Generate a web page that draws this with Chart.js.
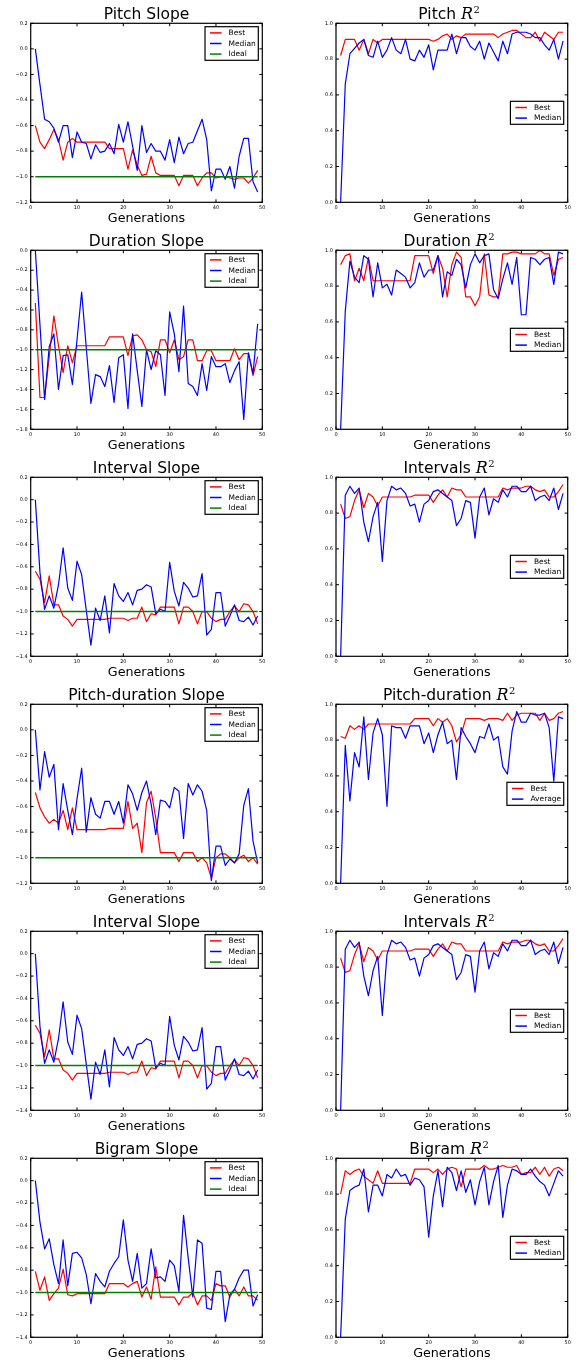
<!DOCTYPE html>
<html>
<head>
<meta charset="utf-8">
<script src="https://cdn.jsdelivr.net/npm/chart.js@4.4.1/dist/chart.umd.min.js"></script>
<style>
  html, body { margin: 0; padding: 0; background: #fff; width: 579px; height: 1360px; overflow: hidden; }
  canvas { position: absolute; }
</style>
</head>
<body>
<script>
// generations on the x axis
const generations = [1,2,3,4,5,6,7,8,9,10,11,12,13,14,15,16,17,18,19,20,21,22,23,24,25,
  26,27,28,29,30,31,32,33,34,35,36,37,38,39,40,41,42,43,44,45,46,47,48,49];
const xTicks = [0, 10, 20, 30, 40, 50];
const idealSlope = -1;

// tick labels of the y axes
const ticksSlope12 = [-1.2, -1.0, -0.8, -0.6, -0.4, -0.2, 0.0, 0.2];
const ticksSlope14 = [-1.4, -1.2, -1.0, -0.8, -0.6, -0.4, -0.2, 0.0, 0.2];
const ticksSlope18 = [-1.8, -1.6, -1.4, -1.2, -1.0, -0.8, -0.6, -0.4, -0.2, 0.0];
const ticksR2 = [0.0, 0.2, 0.4, 0.6, 0.8, 1.0];

const legendSlope = ["Best", "Median", "Ideal"];
const legendR2 = ["Best", "Median"];
const legendR2Avg = ["Best", "Average"];

// Pitch
const pitchSlopeBest = [-0.60,-0.73,-0.78,-0.71,-0.63,-0.71,-0.87,-0.73,-0.70,-0.73,
  -0.73,-0.73,-0.73,-0.73,-0.73,-0.73,-0.78,-0.78,-0.78,-0.78,
  -0.94,-0.79,-0.91,-0.99,-0.98,-0.84,-0.97,-0.99,-0.99,-0.99,
  -0.99,-1.07,-0.99,-0.99,-0.99,-1.07,-1.01,-0.97,-0.97,-1.01,
  -1.00,-1.00,-1.01,-1.02,-1.01,-1.01,-1.05,-1.01,-0.95];
const pitchSlopeMedian = [0.00,-0.28,-0.55,-0.57,-0.62,-0.73,-0.60,-0.60,-0.85,-0.65,
  -0.73,-0.74,-0.86,-0.75,-0.81,-0.80,-0.74,-0.82,-0.59,-0.73,
  -0.57,-0.76,-0.95,-0.60,-0.81,-0.74,-0.80,-0.80,-0.87,-0.71,
  -0.89,-0.69,-0.82,-0.74,-0.73,-0.64,-0.55,-0.71,-1.11,-0.94,
  -0.94,-1.02,-0.92,-1.09,-0.84,-0.70,-0.70,-1.04,-1.12];
const pitchR2Best = [0.82,0.91,0.91,0.91,0.85,0.91,0.83,0.91,0.89,0.91,
  0.91,0.91,0.91,0.91,0.91,0.91,0.91,0.91,0.91,0.91,
  0.90,0.91,0.93,0.94,0.91,0.93,0.92,0.94,0.94,0.94,
  0.94,0.94,0.94,0.94,0.92,0.94,0.95,0.96,0.96,0.94,
  0.92,0.92,0.95,0.90,0.95,0.93,0.91,0.95,0.95];
const pitchR2Median = [0.00,0.66,0.83,0.86,0.89,0.91,0.82,0.81,0.90,0.81,
  0.85,0.92,0.85,0.83,0.91,0.80,0.79,0.85,0.81,0.88,
  0.74,0.85,0.85,0.85,0.94,0.83,0.92,0.92,0.87,0.85,
  0.90,0.80,0.89,0.84,0.79,0.90,0.83,0.94,0.95,0.95,
  0.95,0.94,0.92,0.92,0.88,0.85,0.91,0.80,0.90];

// Duration
const durationSlopeBest = [-0.53,-1.48,-1.48,-1.07,-0.66,-0.96,-1.23,-0.96,-1.13,-0.96,
  -0.96,-0.96,-0.96,-0.96,-0.96,-0.96,-0.87,-0.87,-0.87,-0.87,
  -1.06,-0.86,-0.85,-0.90,-1.00,-1.02,-1.17,-0.90,-0.90,-1.03,
  -0.90,-1.10,-1.07,-0.90,-0.90,-1.11,-1.11,-1.01,-1.01,-1.11,
  -1.11,-1.11,-1.11,-0.99,-1.10,-1.04,-1.04,-1.26,-1.07];
const durationSlopeMedian = [0.00,-0.75,-1.50,-0.97,-0.84,-1.40,-1.06,-1.05,-1.35,-0.90,
  -0.42,-0.98,-1.54,-1.25,-1.27,-1.37,-1.16,-1.53,-1.08,-1.05,
  -1.59,-0.84,-1.21,-1.57,-1.00,-1.20,-1.01,-1.05,-1.46,-0.62,
  -0.84,-1.22,-0.56,-1.34,-1.37,-1.46,-1.14,-1.41,-1.07,-1.17,
  -1.17,-1.14,-1.33,-1.21,-1.12,-1.70,-1.03,-1.24,-0.74];
const durationR2Best = [0.92,0.97,0.98,0.83,0.90,0.83,0.96,0.83,0.83,0.83,
  0.83,0.83,0.83,0.83,0.83,0.83,0.97,0.97,0.97,0.97,
  0.87,0.97,0.90,0.74,0.92,0.99,0.96,0.74,0.74,0.69,
  0.74,0.98,0.75,0.74,0.74,0.98,0.98,0.99,0.99,0.98,
  0.98,0.98,0.98,1.00,0.98,0.98,0.86,0.95,0.96];
const durationR2Median = [0.00,0.66,0.94,0.85,0.82,0.97,0.95,0.74,0.93,0.79,
  0.81,0.75,0.89,0.87,0.85,0.79,0.82,0.93,0.85,0.89,
  0.89,0.97,0.74,0.88,0.86,0.95,0.92,0.79,0.92,0.98,
  0.93,0.97,0.98,0.78,0.73,0.84,0.93,0.81,0.96,0.64,
  0.64,0.96,0.95,0.92,0.95,0.96,0.81,0.99,0.98];

// Interval
const intervalSlopeBest = [-0.64,-0.71,-0.92,-0.68,-0.94,-0.94,-1.04,-1.07,-1.13,-1.07,
  -1.07,-1.07,-1.07,-1.07,-1.07,-1.07,-1.06,-1.06,-1.06,-1.06,
  -1.08,-1.06,-1.06,-0.96,-1.09,-1.02,-1.03,-0.96,-0.96,-0.96,
  -0.96,-1.11,-0.96,-0.96,-1.00,-1.11,-1.00,-1.00,-1.06,-1.09,
  -1.07,-1.07,-1.00,-0.95,-1.00,-0.93,-0.94,-1.00,-1.11];
const intervalSlopeMedian = [0.00,-0.65,-0.98,-0.86,-0.97,-0.76,-0.43,-0.79,-0.90,-0.55,
  -0.67,-0.99,-1.30,-0.97,-1.08,-0.86,-1.19,-0.75,-0.86,-0.91,
  -0.83,-0.94,-0.81,-0.80,-0.76,-0.78,-1.02,-0.98,-1.00,-0.56,
  -0.82,-0.95,-0.74,-0.79,-0.87,-0.86,-0.66,-1.21,-1.16,-0.83,
  -0.83,-1.13,-1.04,-0.94,-1.08,-1.09,-1.05,-1.12,-1.04];
const intervalsR2Best = [0.85,0.77,0.78,0.87,0.93,0.83,0.91,0.89,0.84,0.89,
  0.89,0.89,0.89,0.89,0.89,0.89,0.90,0.90,0.90,0.90,
  0.86,0.90,0.93,0.89,0.94,0.93,0.93,0.89,0.89,0.89,
  0.89,0.89,0.89,0.89,0.89,0.94,0.93,0.94,0.94,0.94,
  0.95,0.95,0.93,0.92,0.93,0.89,0.89,0.92,0.96];
const intervalsR2Median = [0.00,0.90,0.95,0.91,0.94,0.75,0.64,0.78,0.86,0.53,
  0.87,0.95,0.93,0.94,0.91,0.84,0.85,0.75,0.85,0.87,
  0.92,0.93,0.91,0.89,0.87,0.73,0.77,0.87,0.86,0.66,
  0.89,0.94,0.79,0.88,0.86,0.93,0.89,0.95,0.95,0.92,
  0.92,0.95,0.87,0.89,0.90,0.87,0.94,0.82,0.91];

// Pitch-duration
const pdSlopeBest = [-0.49,-0.61,-0.68,-0.73,-0.70,-0.73,-0.63,-0.78,-0.61,-0.78,
  -0.78,-0.78,-0.78,-0.78,-0.78,-0.78,-0.77,-0.77,-0.77,-0.77,
  -0.56,-0.77,-0.73,-0.96,-0.57,-0.48,-0.69,-0.96,-0.96,-0.96,
  -0.96,-1.03,-0.96,-0.96,-0.96,-1.03,-1.00,-1.04,-1.16,-1.00,
  -0.97,-0.97,-1.00,-1.04,-1.00,-0.98,-1.03,-1.00,-1.05];
const pdSlopeMedian = [0.00,-0.47,-0.17,-0.37,-0.27,-0.78,-0.42,-0.63,-0.82,-0.54,
  -0.30,-0.80,-0.53,-0.66,-0.69,-0.56,-0.56,-0.66,-0.56,-0.73,
  -0.43,-0.50,-0.63,-0.49,-0.40,-0.58,-0.82,-0.55,-0.56,-0.61,
  -0.45,-0.48,-0.85,-0.42,-0.51,-0.43,-0.48,-0.63,-1.18,-0.91,
  -0.91,-1.06,-1.01,-1.04,-0.97,-0.59,-0.46,-0.87,-1.04];
const pdR2Best = [0.82,0.81,0.88,0.86,0.88,0.86,0.89,0.89,0.89,0.89,
  0.89,0.89,0.89,0.89,0.89,0.89,0.92,0.92,0.92,0.92,
  0.88,0.92,0.90,0.92,0.88,0.79,0.83,0.92,0.92,0.92,
  0.92,0.91,0.92,0.92,0.92,0.91,0.95,0.91,0.94,0.95,
  0.95,0.95,0.95,0.91,0.95,0.91,0.92,0.95,0.96];
const pdR2Average = [0.00,0.77,0.46,0.73,0.65,0.93,0.58,0.84,0.92,0.83,
  0.43,0.88,0.87,0.87,0.81,0.88,0.88,0.88,0.78,0.84,
  0.73,0.83,0.90,0.78,0.80,0.58,0.87,0.82,0.78,0.73,
  0.82,0.81,0.89,0.80,0.82,0.65,0.61,0.85,0.96,0.90,
  0.90,0.95,0.94,0.94,0.95,0.87,0.57,0.93,0.92];

// Bigram
const bigramSlopeBest = [-0.81,-0.98,-0.86,-1.07,-1.01,-0.96,-0.79,-1.02,-1.03,-1.01,
  -1.01,-1.01,-1.01,-1.01,-1.01,-1.01,-0.92,-0.92,-0.92,-0.92,
  -0.95,-0.92,-0.90,-1.04,-0.95,-1.06,-0.77,-1.04,-1.04,-1.04,
  -1.04,-1.11,-1.04,-1.04,-1.00,-1.11,-1.03,-1.03,-1.07,-0.92,
  -0.94,-0.94,-1.04,-0.97,-1.03,-0.95,-1.03,-1.03,-1.07];
const bigramSlopeMedian = [0.00,-0.37,-0.61,-0.52,-0.75,-0.92,-0.53,-0.94,-0.65,-0.64,
  -0.69,-0.84,-1.10,-0.83,-0.90,-0.95,-0.81,-0.74,-0.68,-0.35,
  -0.71,-0.90,-0.65,-0.96,-0.92,-0.61,-0.87,-0.86,-0.90,-0.71,
  -0.76,-0.99,-0.31,-0.69,-1.04,-0.53,-0.56,-1.14,-1.15,-0.81,
  -0.81,-1.26,-1.02,-0.97,-0.87,-0.80,-0.80,-1.12,-1.02];
const bigramR2Best = [0.80,0.93,0.91,0.93,0.94,0.90,0.88,0.86,0.93,0.86,
  0.86,0.86,0.86,0.86,0.86,0.86,0.94,0.94,0.94,0.94,
  0.92,0.94,0.91,0.94,0.95,0.94,0.84,0.94,0.94,0.94,
  0.94,0.96,0.94,0.94,0.95,0.96,0.95,0.95,0.96,0.91,
  0.92,0.92,0.95,0.91,0.95,0.90,0.94,0.95,0.93];
const bigramR2Median = [0.00,0.66,0.82,0.84,0.85,0.94,0.70,0.85,0.85,0.79,
  0.91,0.89,0.94,0.90,0.91,0.85,0.89,0.88,0.84,0.56,
  0.79,0.93,0.73,0.95,0.92,0.82,0.93,0.81,0.88,0.74,
  0.87,0.95,0.74,0.87,0.96,0.67,0.85,0.94,0.93,0.91,
  0.91,0.94,0.90,0.87,0.85,0.79,0.86,0.93,0.90];

const panels = [
  { title: "Pitch Slope", slope: true, yTicks: ticksSlope12, best: pitchSlopeBest, median: pitchSlopeMedian, legend: legendSlope },
  { title: "Pitch", slope: false, yTicks: ticksR2, best: pitchR2Best, median: pitchR2Median, legend: legendR2 },
  { title: "Duration Slope", slope: true, yTicks: ticksSlope18, best: durationSlopeBest, median: durationSlopeMedian, legend: legendSlope },
  { title: "Duration", slope: false, yTicks: ticksR2, best: durationR2Best, median: durationR2Median, legend: legendR2 },
  { title: "Interval Slope", slope: true, yTicks: ticksSlope14, best: intervalSlopeBest, median: intervalSlopeMedian, legend: legendSlope },
  { title: "Intervals", slope: false, yTicks: ticksR2, best: intervalsR2Best, median: intervalsR2Median, legend: legendR2 },
  { title: "Pitch-duration Slope", slope: true, yTicks: ticksSlope12, best: pdSlopeBest, median: pdSlopeMedian, legend: legendSlope },
  { title: "Pitch-duration", slope: false, yTicks: ticksR2, best: pdR2Best, median: pdR2Average, legend: legendR2Avg },
  { title: "Interval Slope", slope: true, yTicks: ticksSlope14, best: intervalSlopeBest, median: intervalSlopeMedian, legend: legendSlope },
  { title: "Intervals", slope: false, yTicks: ticksR2, best: intervalsR2Best, median: intervalsR2Median, legend: legendR2 },
  { title: "Bigram Slope", slope: true, yTicks: ticksSlope14, best: bigramSlopeBest, median: bigramSlopeMedian, legend: legendSlope },
  { title: "Bigram", slope: false, yTicks: ticksR2, best: bigramR2Best, median: bigramR2Median, legend: legendR2 },
];

const SANS = '"DejaVu Sans", sans-serif';
const SERIF = '"DejaVu Serif", "Liberation Serif", serif';
const COLORS = ["#ff0000", "#0000ff", "#008000"];

function fmtTick(v) {
  if (Math.abs(v) < 1e-9) return "0.0";
  return v.toFixed(1).replace("-", "\u2212");
}

// matplotlib-like frame, inward ticks, title, xlabel and legend
const mplDecor = {
  id: "mplDecor",
  afterDatasetsDraw(chart, args, opts) {
    const { ctx, chartArea: a, scales: { x, y } } = chart;
    const p = opts.panel;
    ctx.save();

    // inward ticks on all four sides
    ctx.strokeStyle = "#000";
    ctx.lineWidth = 1;
    const tl = 3;
    ctx.beginPath();
    x.ticks.forEach(t => {
      const px = x.getPixelForValue(t.value);
      ctx.moveTo(px, a.bottom); ctx.lineTo(px, a.bottom - tl);
      ctx.moveTo(px, a.top); ctx.lineTo(px, a.top + tl);
    });
    y.ticks.forEach(t => {
      const py = y.getPixelForValue(t.value);
      ctx.moveTo(a.left, py); ctx.lineTo(a.left + tl, py);
      ctx.moveTo(a.right, py); ctx.lineTo(a.right - tl, py);
    });
    ctx.stroke();

    // frame
    ctx.lineWidth = 1.2;
    ctx.strokeRect(a.left, a.top, a.right - a.left, a.bottom - a.top);

    const cx = (a.left + a.right) / 2;
    ctx.fillStyle = "#000";
    ctx.textBaseline = "alphabetic";

    // title
    if (p.slope) {
      ctx.font = "15.5px " + SANS;
      ctx.textAlign = "center";
      ctx.fillText(p.title, cx, a.top - 4);
    } else {
      ctx.textAlign = "left";
      const t1 = p.title + " ";
      ctx.font = "15.5px " + SANS;
      const w1 = ctx.measureText(t1).width;
      ctx.font = "italic 16px " + SERIF;
      const w2 = ctx.measureText("R").width;
      ctx.font = "10px " + SERIF;
      const w3 = ctx.measureText("2").width;
      let sx = cx - (w1 + w2 + w3) / 2 - 3;
      const by = a.top - 4;
      ctx.font = "15.5px " + SANS;
      ctx.fillText(t1, sx, by);
      ctx.font = "italic 16px " + SERIF;
      ctx.fillText("R", sx + w1, by);
      ctx.font = "10px " + SERIF;
      ctx.fillText("2", sx + w1 + w2 + 0.5, by - 6.5);
    }

    // x label
    ctx.font = "12.7px " + SANS;
    ctx.textAlign = "center";
    ctx.fillText("Generations", cx, a.bottom + 19.3);

    // legend
    const labels = p.legend;
    ctx.font = "7.5px " + SANS;
    const tw = Math.max(...labels.map(s => ctx.measureText(s).width));
    const padL = 5, handle = 11.5, gap = 7, padR = 2.5, rowH = 10.6, padV = 6.2;
    const w = padL + handle + gap + tw + padR;
    const h = padV * 2 + rowH * (labels.length - 1);
    const x0 = a.right - 4 - w;
    const y0 = p.slope ? a.top + 3.4 : (a.top + a.bottom) / 2 - h / 2;
    ctx.fillStyle = "#fff";
    ctx.fillRect(x0, y0, w, h);
    ctx.strokeStyle = "#000";
    ctx.lineWidth = 1.2;
    ctx.strokeRect(x0, y0, w, h);
    ctx.textAlign = "left";
    ctx.textBaseline = "middle";
    labels.forEach((s, k) => {
      const yy = y0 + padV + k * rowH;
      ctx.strokeStyle = COLORS[k];
      ctx.lineWidth = 1.5;
      ctx.beginPath();
      ctx.moveTo(x0 + padL, yy);
      ctx.lineTo(x0 + padL + handle, yy);
      ctx.stroke();
      ctx.fillStyle = "#000";
      ctx.fillText(s, x0 + padL + handle + gap, yy + 0.3);
    });
    ctx.restore();
  }
};

function toPoints(values) {
  return values.map((v, k) => ({ x: generations[k], y: v }));
}

panels.forEach((p, i) => {
  const col = i % 2, row = Math.floor(i / 2);
  const W = col ? 289 : 290, H = 227;
  const plotL = col ? 46 : 30.7, plotR = col ? 277.7 : 262.3;
  const plotT = 23.3, plotB = 202.3;

  const cv = document.createElement("canvas");
  cv.width = W; cv.height = H;
  cv.style.left = (col ? 290 : 0) + "px";
  cv.style.top = (row * 227) + "px";
  cv.style.width = W + "px";
  cv.style.height = H + "px";
  document.body.appendChild(cv);

  const datasets = [
    { label: p.legend[0], data: toPoints(p.best), borderColor: COLORS[0], order: 3 },
    { label: p.legend[1], data: toPoints(p.median), borderColor: COLORS[1], order: 2 },
  ];
  if (p.slope) {
    datasets.push({
      label: "Ideal",
      data: [{ x: generations[0], y: idealSlope }, { x: generations[generations.length - 1], y: idealSlope }],
      borderColor: COLORS[2], borderWidth: 1.6, order: 1
    });
  }
  const yMin = p.yTicks[0], yMax = p.yTicks[p.yTicks.length - 1];

  new Chart(cv, {
    type: "line",
    data: { datasets },
    options: {
      responsive: false,
      animation: false,
      devicePixelRatio: 1,
      layout: { padding: { left: 0, top: plotT, right: W - plotR, bottom: 0 } },
      elements: {
        point: { radius: 0, hoverRadius: 0 },
        line: { borderWidth: 1.2, tension: 0, fill: false, borderJoinStyle: "round" }
      },
      plugins: {
        legend: { display: false },
        tooltip: { enabled: false },
        title: { display: false },
        mplDecor: { panel: p }
      },
      scales: {
        x: {
          type: "linear", min: 0, max: 50,
          afterBuildTicks: s => { s.ticks = xTicks.map(v => ({ value: v })); },
          afterFit: s => { s.height = H - plotB; },
          grid: { display: false, drawTicks: false },
          border: { display: false },
          ticks: { color: "#000", font: { family: SANS, size: 5 }, padding: 2.5, maxRotation: 0, autoSkip: false,
                   callback: v => String(v) }
        },
        y: {
          type: "linear", min: yMin, max: yMax,
          afterBuildTicks: s => { s.ticks = p.yTicks.map(v => ({ value: v })); },
          afterFit: s => { s.width = plotL; },
          grid: { display: false, drawTicks: false },
          border: { display: false },
          ticks: { color: "#000", font: { family: SANS, size: 5 }, padding: 3, autoSkip: false,
                   callback: v => fmtTick(v) }
        }
      }
    },
    plugins: [mplDecor]
  });
});
</script>
</body>
</html>
